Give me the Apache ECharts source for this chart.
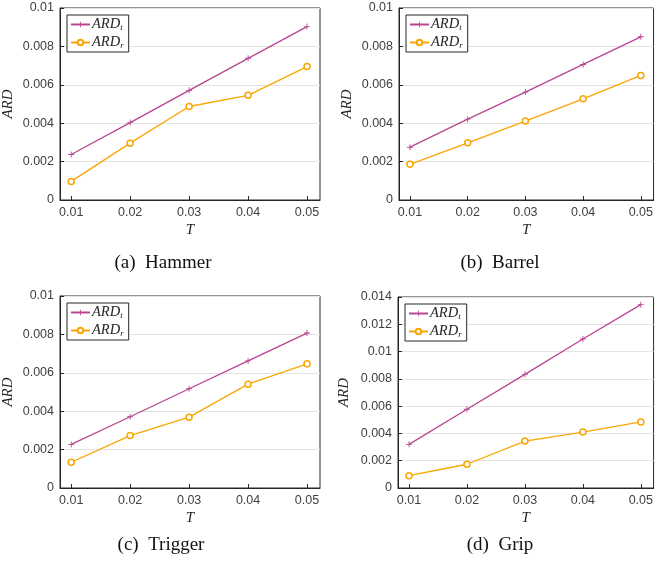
<!DOCTYPE html>
<html>
<head>
    <meta charset="utf-8" />
    <title>ARD vs T</title>
    <script src="https://cdn.jsdelivr.net/npm/echarts@6/dist/echarts.min.js"></script>
</head>
<body style="margin:0;background:#fff;">
    <div id="main" style="width: 656px;height:567px;"></div>
    <script type="text/javascript">
        // data
        var T = [0.01, 0.02, 0.03, 0.04, 0.05];
        var captions = ['(a)  Hammer', '(b)  Barrel', '(c)  Trigger', '(d)  Grip'];
        var hammerT = [0.00237, 0.00403, 0.00571, 0.00738, 0.00903];
        var hammerR = [0.00097, 0.00296, 0.00487, 0.00545, 0.00695];
        var barrelT = [0.00275, 0.00421, 0.00562, 0.00706, 0.00850];
        var barrelR = [0.00186, 0.00298, 0.00411, 0.00527, 0.00649];
        var triggerT = [0.00227, 0.00371, 0.00517, 0.00662, 0.00807];
        var triggerR = [0.00134, 0.00273, 0.00369, 0.00541, 0.00647];
        var gripT = [0.00320, 0.00577, 0.00833, 0.01092, 0.01344];
        var gripR = [0.00090, 0.00174, 0.00344, 0.00410, 0.00484];
        var yMax = [0.01, 0.01, 0.01, 0.014];
        var yTicks = [0, 0.002, 0.004, 0.006, 0.008, 0.01, 0.012, 0.014];

        var panels = [[hammerT, hammerR], [barrelT, barrelR], [triggerT, triggerR], [gripT, gripR]];

        // layout of each panel (px)
        var boxes = [
            {left: 60, top: 8, width: 260, height: 192, cx: 163, cy: 264, nameGap: 44},
            {left: 399, top: 8, width: 260, height: 192, cx: 500, cy: 264, nameGap: 44},
            {left: 60, top: 296, width: 260, height: 192, cx: 161, cy: 546, nameGap: 44},
            {left: 398, top: 297, width: 260, height: 191, cx: 500, cy: 546, nameGap: 46}
        ];

        var magenta = '#B8468F';
        var orange = '#F9A602';
        var axisGray = '#404040';
        var plus = 'path://M-0.6,-4h1.2v3.4h3.4v1.2h-3.4v3.4h-1.2v-3.4h-3.4v-1.2h3.4z';
        var mathFont = {fontFamily: 'Liberation Serif, Times New Roman', fontStyle: 'italic', fontSize: 15, color: '#262626'};

        function fmt(v) {
            return String(+(+v).toFixed(3));
        }

        var option = {
            animation: false,
            backgroundColor: '#fff',
            grid: [], xAxis: [], yAxis: [], series: [], legend: [], graphic: []
        };

        boxes.forEach(function(b, i) {
            option.grid.push({
                left: b.left, top: b.top, width: b.width, height: b.height,
                show: true, borderColor: '#262626', borderWidth: 1, backgroundColor: 'transparent'
            });
            option.xAxis.push({
                type: 'value', gridIndex: i,
                min: 0.0081, max: 0.0522,
                name: 'T', nameLocation: 'middle', nameGap: 23, nameTextStyle: mathFont,
                axisLine: {show: true, lineStyle: {color: '#262626'}},
                axisTick: {show: true, inside: true, length: 4, customValues: T, lineStyle: {color: '#262626'}},
                axisLabel: {customValues: T, formatter: fmt, margin: 6, fontFamily: 'Liberation Sans, Arial', fontSize: 12.5, color: axisGray},
                splitLine: {show: false}
            });
            var yt = yTicks.filter(function(v) { return v <= yMax[i] + 1e-9; });
            option.yAxis.push({
                type: 'value', gridIndex: i,
                min: 0, max: yMax[i], interval: 0.002,
                name: 'ARD', nameLocation: 'middle', nameGap: b.nameGap, nameTextStyle: mathFont,
                axisLine: {show: true, lineStyle: {color: '#262626'}},
                axisTick: {show: true, inside: true, length: 4, lineStyle: {color: '#262626'}},
                axisLabel: {customValues: yt, formatter: fmt, margin: 6, fontFamily: 'Liberation Sans, Arial', fontSize: 12.5, color: axisGray},
                splitLine: {show: true, lineStyle: {color: '#e3e3e3', width: 1}}
            });
            var d = panels[i];
            option.series.push({
                name: 'ARD_t', type: 'line', xAxisIndex: i, yAxisIndex: i,
                data: T.map(function(t, k) { return [t, d[0][k]]; }),
                symbol: plus, symbolSize: 6,
                itemStyle: {color: magenta},
                lineStyle: {color: magenta, width: 1.3}
            });
            option.series.push({
                name: 'ARD_r', type: 'line', xAxisIndex: i, yAxisIndex: i,
                data: T.map(function(t, k) { return [t, d[1][k]]; }),
                symbol: 'circle', symbolSize: 6, showAllSymbol: true,
                itemStyle: {color: '#fff', borderColor: orange, borderWidth: 1.5},
                lineStyle: {color: orange, width: 1.3}
            });
            // legend box with subscripted names
            option.legend.push({
                left: b.left + 7, top: b.top + 7,
                orient: 'vertical',
                data: ['ARD_t', 'ARD_r'],
                itemWidth: 19, itemHeight: 7, itemGap: 3,
                padding: [2, 5, 2, 3],
                borderColor: '#262626', borderWidth: 1, backgroundColor: '#fff',
                selectedMode: false,
                formatter: function(name) {
                    return '{i|ARD}{s|' + name.split('_')[1] + '}';
                },
                textStyle: {
                    padding: [0, 0, 0, -3],
                    rich: {
                        i: {fontFamily: 'Liberation Serif', fontStyle: 'italic', fontSize: 14.5, color: '#262626'},
                        s: {fontFamily: 'Liberation Serif', fontStyle: 'italic', fontSize: 9, color: '#262626', padding: [6, 0, 0, 0]}
                    }
                }
            });
        });

        option.graphic = boxes.map(function(b, i) {
            return {
                type: 'text', x: b.cx, y: b.cy - 10,
                style: {
                    text: captions[i],
                    font: '19px "Liberation Serif", "Times New Roman", serif',
                    fill: '#111', textAlign: 'center'
                }
            };
        });

        var myChart = echarts.init(document.getElementById('main'));
        myChart.setOption(option);
    </script>
</body>
</html>
